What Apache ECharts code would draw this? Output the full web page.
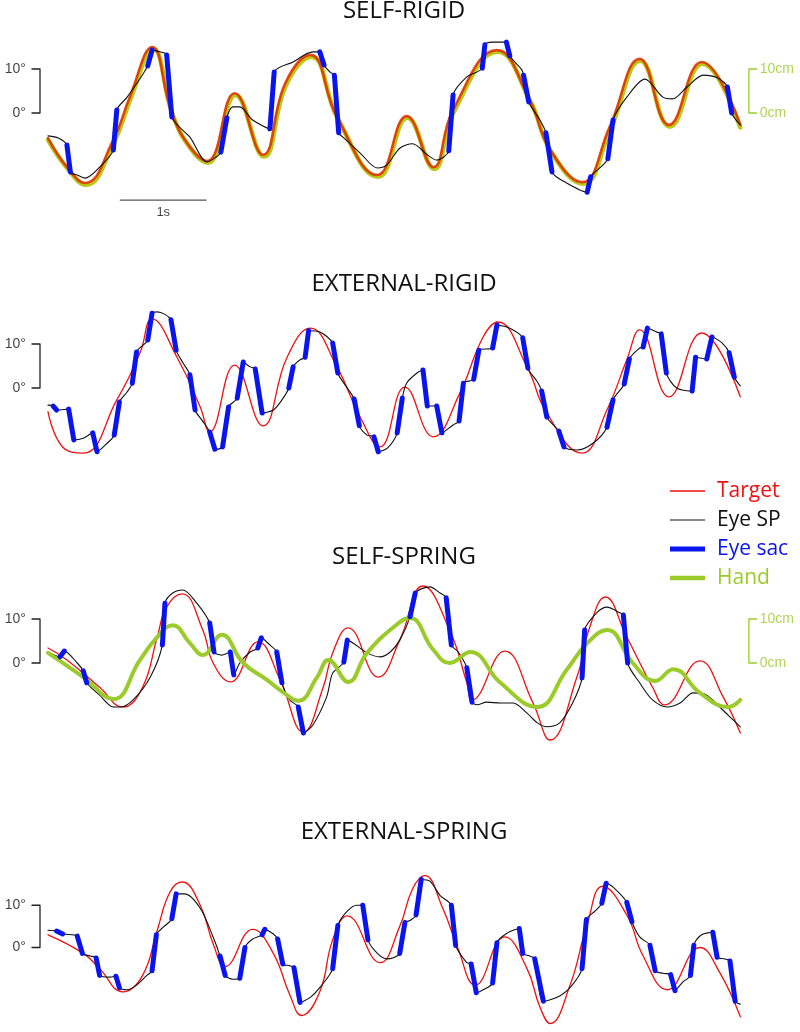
<!DOCTYPE html>
<html><head><meta charset="utf-8">
<script src="https://cdn.jsdelivr.net/npm/echarts@6/dist/echarts.min.js"></script>
<style>html,body{margin:0;padding:0;background:#fff}#c{width:800px;height:1032px}</style>
</head><body><div id="c"></div>
<script>
// ---------------- DATA (time in s, eye/target in deg, hand in cm) ----------------
const panelTitles = ['SELF-RIGID', 'EXTERNAL-RIGID', 'SELF-SPRING', 'EXTERNAL-SPRING'];
const legendLabels = ['Target', 'Eye SP', 'Eye sac', 'Hand'];
const degScaleTicks = [10, 0];
const cmScaleTicks = [10, 0];
const timeBarSec = [0.84, 1.84];

// Panel 1: SELF-RIGID
const target1 = [[0,-5.7],[0.22,-12.3],[0.43,-15.9],[0.76,-6.1],[0.95,3.6],[1.21,15.0],[1.44,0],[1.65,-7.7],[1.85,-10.9],[2.17,4.5],[2.50,-9.5],[2.76,6.8],[3.05,13.2],[3.36,-0.9],[3.83,-14.1],[4.17,-0.7],[4.48,-12.3],[4.71,0.7],[5.22,14.3],[5.60,3.0],[5.84,-8.4],[6.21,-15.7],[6.53,-3.2],[6.88,12.3],[7.22,-2.7],[7.60,11.6],[8.05,-2.7]];
const hand1 = [[0,-6.1],[0.23,-12.7],[0.44,-16.3],[0.77,-6.5],[0.96,3.2],[1.22,14.6],[1.45,-0.4],[1.66,-8.1],[1.86,-11.3],[2.18,4.1],[2.51,-9.9],[2.77,6.4],[3.06,12.8],[3.37,-1.3],[3.84,-14.5],[4.18,-1.1],[4.49,-12.7],[4.72,0.3],[5.23,13.9],[5.61,2.6],[5.85,-8.8],[6.22,-16.1],[6.54,-3.6],[6.89,11.9],[7.23,-3.1],[7.61,11.2],[8.05,-3.3]];
const eye1 = [[0,-5.2],[0.12,-5.7],[0.22,-7.3],[0.26,-13.4],[0.34,-14.1],[0.43,-14.8],[0.60,-12.3],[0.76,-8.4],[0.80,0.7],[0.92,3.6],[1.16,10.7],[1.21,14.3],[1.30,13.9],[1.38,13.2],[1.44,-0.9],[1.65,-5.5],[1.85,-11.1],[1.94,-10.2],[2.01,-8.9],[2.08,-1.1],[2.15,1.4],[2.23,1.4],[2.38,-1.6],[2.58,-3.6],[2.63,9.3],[2.85,11.6],[3.08,13.9],[3.16,13.9],[3.21,10.9],[3.28,9.3],[3.33,8.6],[3.38,-4.5],[3.43,-5.5],[3.63,-9.1],[3.83,-12.5],[3.94,-11.8],[4.09,-8.0],[4.24,-7.0],[4.41,-9.5],[4.52,-10.7],[4.66,-8.6],[4.71,4.1],[4.87,8.2],[5.05,10.2],[5.08,15.5],[5.17,16.1],[5.33,16.1],[5.37,13.0],[5.51,9.8],[5.53,8.6],[5.59,2.5],[5.72,-1.6],[5.79,-4.5],[5.86,-13.4],[6.03,-15.9],[6.27,-18.0],[6.31,-14.5],[6.51,-10.4],[6.57,-1.6],[6.73,3.6],[6.94,7.7],[7.15,3.6],[7.26,3.2],[7.43,5.9],[7.62,8.6],[7.78,8.0],[7.90,5.9],[7.95,0],[8.05,-2.7]];
const sac1 = [[[0.22,-7.3],[0.26,-13.4]],[[0.76,-8.4],[0.80,0.7]],[[1.16,10.7],[1.21,14.3]],[[1.38,13.2],[1.44,-0.9]],[[2.01,-8.9],[2.08,-1.1]],[[2.58,-3.6],[2.63,9.3]],[[3.16,13.9],[3.21,10.9]],[[3.33,8.6],[3.38,-4.5]],[[4.66,-8.6],[4.71,4.1]],[[5.05,10.2],[5.08,15.5]],[[5.33,16.1],[5.37,13.0]],[[5.53,8.6],[5.59,2.5]],[[5.79,-4.5],[5.86,-13.4]],[[6.27,-18.0],[6.31,-14.5]],[[6.51,-10.4],[6.57,-1.6]],[[7.90,5.9],[7.95,0]]];

// Panel 2: EXTERNAL-RIGID
const target2 = [[0,-5.4],[0.17,-13.4],[0.41,-14.8],[0.80,-2.7],[1.07,8.0],[1.21,15.7],[1.50,7.0],[1.77,-4.3],[1.88,-10.0],[2.17,5.2],[2.50,-8.6],[2.78,7.0],[3.05,13.6],[3.36,4.8],[3.63,-6.6],[3.86,-13.4],[4.15,0.2],[4.48,-11.1],[4.79,-1.1],[5.06,11.6],[5.23,15.0],[5.57,4.8],[5.80,-5.7],[6.21,-14.8],[6.50,-5.0],[6.73,6.4],[6.88,13.2],[7.22,-2.0],[7.60,12.5],[8.05,-2.0]];
const eye2 = [[0,-3.9],[0.06,-4.1],[0.10,-5.0],[0.23,-4.8],[0.30,-11.8],[0.41,-11.4],[0.52,-10.2],[0.57,-14.5],[0.69,-12.5],[0.77,-10.7],[0.83,-3.2],[0.92,-0.9],[0.98,1.1],[1.03,8.2],[1.16,10.9],[1.21,17.0],[1.27,17.3],[1.43,15.5],[1.49,8.6],[1.57,5.7],[1.65,3.0],[1.71,-5.0],[1.79,-7.3],[1.88,-10.0],[1.94,-13.9],[2.03,-13.4],[2.10,-4.3],[2.20,-2.3],[2.27,5.9],[2.35,4.8],[2.41,4.3],[2.49,-5.7],[2.62,-5.0],[2.72,-2.7],[2.80,0],[2.85,4.8],[2.93,6.4],[2.99,7.0],[3.03,13.0],[3.16,12.7],[3.31,10.2],[3.37,3.4],[3.48,0],[3.56,-2.5],[3.62,-8.6],[3.71,-10.7],[3.79,-11.1],[3.84,-14.5],[3.95,-13.6],[4.06,-10.2],[4.12,-2.3],[4.17,1.1],[4.29,3.4],[4.36,4.1],[4.41,-4.1],[4.52,-4.1],[4.58,-10.2],[4.71,-8.4],[4.78,-7.5],[4.83,1.1],[4.95,2.0],[5.01,8.6],[5.17,9.1],[5.22,14.3],[5.37,13.6],[5.52,11.4],[5.58,4.5],[5.69,1.4],[5.74,-0.7],[5.80,-6.6],[5.90,-8.9],[5.94,-9.8],[6.00,-13.4],[6.15,-14.1],[6.34,-12.5],[6.50,-8.9],[6.57,-2.7],[6.70,0.9],[6.76,6.6],[6.88,9.1],[6.92,9.3],[6.97,13.6],[7.08,12.7],[7.13,12.3],[7.19,3.4],[7.31,0],[7.49,-0.7],[7.53,7.0],[7.66,6.6],[7.72,11.6],[7.84,10.2],[7.92,8.0],[7.98,2.5],[8.05,0.5]];
const sac2 = [[[0.06,-4.1],[0.10,-5.0]],[[0.24,-4.8],[0.30,-11.8]],[[0.52,-10.2],[0.57,-14.5]],[[0.77,-10.7],[0.83,-3.2]],[[0.98,1.1],[1.03,8.2]],[[1.16,10.9],[1.21,17.0]],[[1.43,15.5],[1.49,8.6]],[[1.65,3.0],[1.71,-5.0]],[[1.88,-10.0],[1.94,-13.9]],[[2.03,-13.4],[2.10,-4.3]],[[2.20,-2.3],[2.27,5.9]],[[2.41,4.3],[2.49,-5.7]],[[2.80,0],[2.85,4.8]],[[2.99,7.0],[3.03,13.0]],[[3.31,10.2],[3.37,3.4]],[[3.56,-2.5],[3.62,-8.6]],[[3.79,-11.1],[3.84,-14.5]],[[4.06,-10.2],[4.12,-2.3]],[[4.36,4.1],[4.41,-4.1]],[[4.52,-4.1],[4.58,-10.2]],[[4.78,-7.5],[4.83,1.1]],[[4.95,2.0],[5.01,8.6]],[[5.17,9.1],[5.22,14.3]],[[5.52,11.4],[5.58,4.5]],[[5.74,-0.7],[5.80,-6.6]],[[5.94,-9.8],[6.00,-13.4]],[[6.50,-8.9],[6.57,-2.7]],[[6.70,0.9],[6.76,6.6]],[[6.92,9.3],[6.97,13.6]],[[7.13,12.3],[7.19,3.4]],[[7.49,-0.7],[7.53,7.0]],[[7.66,6.6],[7.72,11.6]],[[7.92,8.0],[7.98,2.5]]];

// Panel 3: SELF-SPRING
const target3 = [[0,3.4],[0.22,0.7],[0.60,-5.5],[0.87,-10.0],[1.10,-5.5],[1.27,5.9],[1.38,12.7],[1.56,15.7],[1.80,7.5],[1.92,0],[2.12,-4.3],[2.44,4.8],[2.70,-3.9],[2.97,-15.7],[3.20,-5.5],[3.31,2.3],[3.49,8.0],[3.84,-3.2],[4.09,5.2],[4.36,17.5],[4.67,7.5],[4.87,-4.5],[4.93,-8.4],[5.31,2.7],[5.64,-9.1],[5.84,-17.5],[6.15,-3.2],[6.30,8.2],[6.48,15.0],[6.73,5.9],[7.03,-5.5],[7.17,-9.5],[7.58,0.5],[7.85,-7.7],[8.05,-15.9]];
const eye3 = [[0,2.5],[0.14,1.4],[0.19,2.7],[0.34,0],[0.41,-1.8],[0.45,-4.5],[0.60,-7.3],[0.76,-10.0],[0.84,-10.0],[0.99,-8.4],[1.19,-3.2],[1.33,4.1],[1.36,13.6],[1.45,15.9],[1.57,16.6],[1.73,13.6],[1.88,9.1],[1.93,2.5],[2.02,1.8],[2.12,2.5],[2.16,-2.7],[2.23,0],[2.35,2.5],[2.44,3.4],[2.48,5.7],[2.58,4.1],[2.66,2.5],[2.72,-4.5],[2.81,-8.4],[2.91,-10.0],[2.97,-15.9],[3.08,-14.1],[3.24,-7.7],[3.31,-2.3],[3.44,0.2],[3.48,5.2],[3.55,4.5],[3.71,2.3],[3.86,1.4],[3.98,2.5],[4.09,5.2],[4.21,10.5],[4.27,15.9],[4.44,17.3],[4.56,15.9],[4.63,14.8],[4.69,4.1],[4.77,2.5],[4.87,-1.1],[4.93,-8.9],[4.99,-9.5],[5.10,-8.9],[5.26,-9.1],[5.41,-9.1],[5.57,-11.4],[5.69,-13.6],[5.80,-14.5],[5.95,-13.6],[6.10,-9.1],[6.21,-3.4],[6.24,7.5],[6.38,11.4],[6.50,12.7],[6.65,11.4],[6.69,10.9],[6.74,0],[6.88,-4.5],[7.03,-8.4],[7.20,-10.0],[7.35,-9.1],[7.50,-6.8],[7.66,-7.3],[7.81,-10.0],[7.97,-13.0],[8.05,-14.5]];
const sac3 = [[[0.14,1.4],[0.19,2.7]],[[0.41,-1.8],[0.45,-4.5]],[[1.33,4.1],[1.36,13.6]],[[1.88,9.1],[1.93,2.5]],[[2.12,2.5],[2.16,-2.7]],[[2.44,3.4],[2.48,5.7]],[[2.66,2.5],[2.72,-4.5]],[[2.91,-10.0],[2.97,-15.9]],[[3.44,0.2],[3.48,5.2]],[[4.21,10.5],[4.27,15.9]],[[4.63,14.8],[4.69,4.1]],[[4.87,-1.1],[4.93,-8.9]],[[6.21,-3.4],[6.24,7.5]],[[6.69,10.9],[6.74,0]]];
const hand3 = [[0,2.3],[0.41,-3.2],[0.76,-8.2],[1.07,0.7],[1.27,5.9],[1.45,8.6],[1.65,4.5],[1.80,1.8],[2.02,6.4],[2.27,0],[2.55,-3.9],[2.73,-6.6],[2.91,-8.6],[3.13,-3.2],[3.26,0.7],[3.49,-4.3],[3.71,2.3],[4.09,9.3],[4.21,10.2],[4.48,3.0],[4.67,0],[4.91,2.5],[5.26,-4.5],[5.69,-10.0],[6.03,-1.6],[6.27,4.5],[6.50,7.5],[6.80,0],[7.06,-4.1],[7.27,-1.4],[7.58,-6.8],[7.91,-10.0],[8.05,-8.4]];

// Panel 4: EXTERNAL-SPRING
const target4 = [[0,3.0],[0.41,-1.4],[0.60,-5.0],[0.87,-10.5],[1.10,-6.6],[1.27,4.1],[1.42,13.2],[1.56,15.5],[1.77,10.0],[1.92,0.9],[2.06,-4.5],[2.38,4.3],[2.62,-1.4],[2.81,-11.1],[2.95,-16.1],[3.16,-10.5],[3.31,1.8],[3.48,7.5],[3.86,-3.6],[4.09,5.0],[4.24,13.9],[4.38,17.0],[4.59,9.3],[4.76,0.2],[4.97,-8.9],[5.31,2.5],[5.57,-5.0],[5.72,-14.1],[5.84,-18.0],[6.07,-8.9],[6.27,5.5],[6.45,14.5],[6.73,7.7],[6.92,-2.0],[7.20,-10.0],[7.58,0],[7.81,-5.9],[8.05,-16.4]];
const eye4 = [[0,4.1],[0.10,3.9],[0.17,3.2],[0.34,2.7],[0.40,-1.4],[0.49,-2.0],[0.56,-2.5],[0.60,-6.6],[0.72,-7.0],[0.79,-6.8],[0.83,-9.5],[0.92,-10.0],[1.03,-8.9],[1.15,-6.6],[1.21,-5.5],[1.26,3.0],[1.34,4.8],[1.44,6.8],[1.49,12.7],[1.59,12.7],[1.77,9.3],[1.92,2.5],[2.00,-2.0],[2.06,-6.6],[2.15,-7.5],[2.23,-7.3],[2.29,0],[2.38,2.0],[2.49,3.0],[2.52,4.3],[2.62,3.2],[2.67,2.0],[2.73,-3.9],[2.81,-4.3],[2.86,-4.8],[2.93,-13.0],[3.05,-11.8],[3.16,-9.5],[3.31,-5.0],[3.37,5.2],[3.48,8.6],[3.59,10.0],[3.66,10.0],[3.72,1.8],[3.83,-1.4],[3.94,-2.7],[4.09,-1.4],[4.15,5.9],[4.21,6.4],[4.28,7.7],[4.34,16.1],[4.44,15.7],[4.56,12.3],[4.69,10.0],[4.74,0.5],[4.87,-3.6],[4.92,-3.9],[4.98,-10.7],[5.06,-10.0],[5.17,-8.4],[5.22,1.1],[5.34,3.4],[5.48,4.5],[5.52,-1.4],[5.60,-2.0],[5.66,-2.7],[5.76,-12.7],[5.92,-11.8],[6.07,-9.5],[6.21,-5.0],[6.26,6.6],[6.36,8.6],[6.44,10.5],[6.49,15.2],[6.57,14.3],[6.73,10.7],[6.79,6.1],[6.88,2.5],[7.00,0.5],[7.06,-5.5],[7.15,-6.1],[7.24,-6.4],[7.29,-10.2],[7.38,-8.2],[7.47,-6.6],[7.51,0.5],[7.60,3.0],[7.73,3.6],[7.78,-2.3],[7.87,-2.7],[7.93,-3.2],[7.99,-12.7],[8.05,-13.4]];
const sac4 = [[[0.10,3.9],[0.17,3.2]],[[0.34,2.7],[0.40,-1.4]],[[0.56,-2.5],[0.60,-6.6]],[[0.79,-6.8],[0.83,-9.5]],[[1.21,-5.5],[1.26,3.0]],[[1.44,6.8],[1.49,12.7]],[[2.00,-2.0],[2.06,-6.6]],[[2.23,-7.3],[2.29,0]],[[2.49,3.0],[2.52,4.3]],[[2.67,2.0],[2.73,-3.9]],[[2.86,-4.8],[2.93,-13.0]],[[3.31,-5.0],[3.37,5.2]],[[3.66,10.0],[3.72,1.8]],[[4.09,-1.4],[4.15,5.9]],[[4.28,7.7],[4.34,16.1]],[[4.69,10.0],[4.74,0.5]],[[4.92,-3.9],[4.98,-10.7]],[[5.17,-8.4],[5.22,1.1]],[[5.48,4.5],[5.52,-1.4]],[[5.66,-2.7],[5.76,-12.7]],[[6.21,-5.0],[6.26,6.6]],[[6.44,10.5],[6.49,15.2]],[[6.73,10.7],[6.79,6.1]],[[7.00,0.5],[7.06,-5.5]],[[7.24,-6.4],[7.29,-10.2]],[[7.47,-6.6],[7.51,0.5]],[[7.73,3.6],[7.78,-2.3]],[[7.93,-3.2],[7.99,-12.7]]];

// ---------------- STYLE / LAYOUT ----------------
const C_TARGET = '#ee1111', C_EYE = '#111111', C_SAC = '#0a14ee', C_HAND = '#9bcb2a';
const PX_PER_S = 86, X0 = 48, W = 800;
const X_MIN = -X0 / PX_PER_S, X_MAX = (W - X0) / PX_PER_S;
const gridTops = [25, 300, 575, 863];
const titleY = [11, 284, 557, 832];

const panels = [
  {target: target1, eye: eye1, sac: sac1, hand: hand1, handBelow: true, cmBar: true, timeBar: true},
  {target: target2, eye: eye2, sac: sac2},
  {target: target3, eye: eye3, sac: sac3, hand: hand3, handBelow: false, cmBar: true},
  {target: target4, eye: eye4, sac: sac4}
];

const grid = [], xAxis = [], yAxis = [], series = [];
const degBarX = [-0.186, -0.093];
const cmBarX = [8.24, 8.15];

function lineSeries(i, name, data, color, width, z, smooth) {
  return {type: 'line', name, xAxisIndex: i, yAxisIndex: i, data, symbol: 'none',
    smooth: smooth || false,
    lineStyle: {color, width, cap: 'round', join: 'round'}, z, silent: true, animation: false, clip: false};
}
function sacData(pairs) {
  const out = [];
  pairs.forEach(p => { out.push(p[0], p[1], [p[1][0], null]); });
  return out;
}
function textSeries(i, pts, pos, dist, color, fmt, size) {
  return {type: 'scatter', xAxisIndex: i, yAxisIndex: i, data: pts, symbolSize: 0.1,
    itemStyle: {color: 'rgba(0,0,0,0)'}, silent: true, animation: false, z: 10,
    label: {show: true, position: pos, distance: dist, color, fontSize: size, fontFamily: 'Liberation Sans, Arial', formatter: fmt}};
}

panels.forEach((p, i) => {
  grid.push({left: 0, right: 0, top: gridTops[i], height: 176});
  xAxis.push({type: 'value', gridIndex: i, min: X_MIN, max: X_MAX, show: false});
  yAxis.push({type: 'value', gridIndex: i, min: -20, max: 20, show: false});
  if (p.hand && p.handBelow) series.push(lineSeries(i, 'Hand', p.hand, '#bcc814', 4.5, 2, 0.45));
  series.push(lineSeries(i, 'Target', p.target, p.handBelow ? 'rgba(225,35,0,0.8)' : C_TARGET, p.handBelow ? 2.6 : 1.3, 3, 0.45));
  series.push(lineSeries(i, 'Eye SP', p.eye, C_EYE, 1.1, 4, 0.3));
  if (p.hand && !p.handBelow) series.push(lineSeries(i, 'Hand', p.hand, C_HAND, 4, 5, 0.45));
  series.push(lineSeries(i, 'Eye sac', sacData(p.sac), C_SAC, 5, 6, false));
  // degree scale bar
  series.push(lineSeries(i, 'degbar', [[degBarX[0], degScaleTicks[0]], [degBarX[1], degScaleTicks[0]], [degBarX[1], degScaleTicks[1]], [degBarX[0], degScaleTicks[1]]], '#222', 1.3, 7, false));
  series.push(textSeries(i, degScaleTicks.map(v => [degBarX[0], v]), 'left', 6, '#111', q => q.value[1] + '°', 14));
  if (p.cmBar) {
    series.push(lineSeries(i, 'cmbar', [[cmBarX[0], cmScaleTicks[0]], [cmBarX[1], cmScaleTicks[0]], [cmBarX[1], cmScaleTicks[1]], [cmBarX[0], cmScaleTicks[1]]], C_HAND, 1.3, 7, false));
    series.push(textSeries(i, cmScaleTicks.map(v => [cmBarX[0], v]), 'right', 3, C_HAND, q => q.value[1] + 'cm', 14));
  }
  if (p.timeBar) {
    series.push(lineSeries(i, 'timebar', [[timeBarSec[0], -19.8], [timeBarSec[1], -19.8]], '#555', 1.2, 7, false));
    series.push(textSeries(i, [[(timeBarSec[0] + timeBarSec[1]) / 2, -19.8]], 'bottom', 6, '#111', () => (timeBarSec[1] - timeBarSec[0]).toFixed(0) + 's', 13));
  }
});

// titles + legend as graphic text
const graphic = [];
panelTitles.forEach((t, i) => graphic.push({type: 'text', x: 404, y: titleY[i], silent: true,
  style: {text: t, fill: '#111', font: '24px "Open Sans"', textAlign: 'center', textVerticalAlign: 'middle'}}));
const legColors = [C_TARGET, C_EYE, C_SAC, C_HAND];
const legWidths = [1.3, 1.2, 5, 4.5];
const legY = [491, 520, 549, 578];
legendLabels.forEach((t, i) => {
  graphic.push({type: 'line', silent: true, shape: {x1: 670, y1: legY[i], x2: 705, y2: legY[i]},
    style: {stroke: legColors[i], lineWidth: legWidths[i]}});
  graphic.push({type: 'text', x: 717, y: legY[i], silent: true,
    style: {text: t, fill: legColors[i], font: '21px "Open Sans"', textVerticalAlign: 'middle'}});
});

const chart = echarts.init(document.getElementById('c'), null, {renderer: 'canvas'});
chart.setOption({backgroundColor: '#fff', animation: false, grid, xAxis, yAxis, series, graphic});
</script>
</body></html>
